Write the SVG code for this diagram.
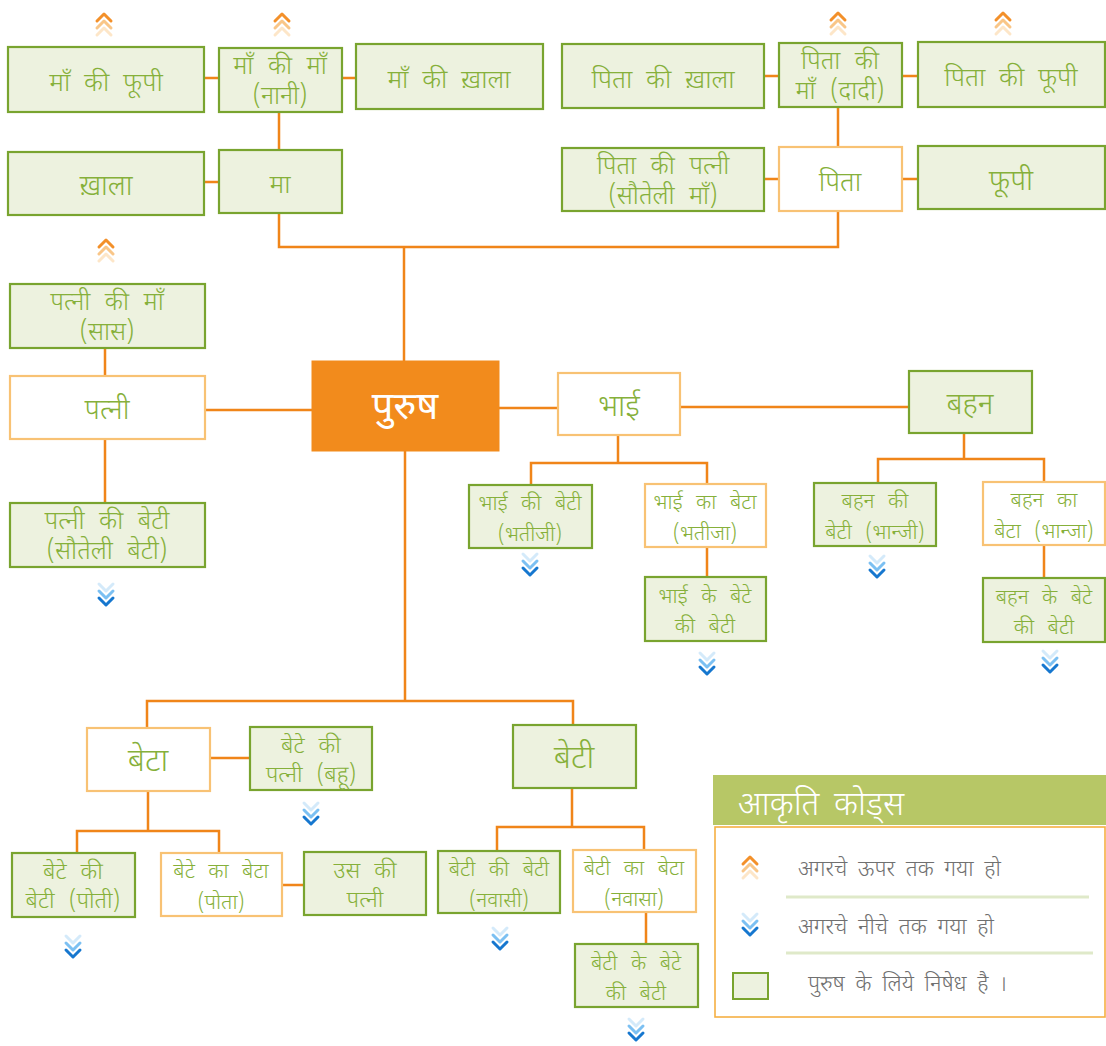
<svg xmlns="http://www.w3.org/2000/svg" xmlns:xlink="http://www.w3.org/1999/xlink" width="1106" height="1046" viewBox="0 0 1106 1046">
<style>
text{font-family:"Noto Sans Devanagari","Lohit Devanagari","Noto Sans","DejaVu Sans",sans-serif;text-anchor:middle;fill:#86b03a;font-weight:300}
.g rect{fill:#edf2df;stroke:#79a42f;stroke-width:2.2}
.w rect{fill:#ffffff;stroke:#f8c274;stroke-width:2.2}
.o rect{fill:#f28b1c;stroke:#f28b1c}
.o text{fill:#ffffff;font-weight:400}
.c path{fill:none;stroke:#f08519;stroke-width:2.5}
.s26{font-size:26px;word-spacing:7px}
.s25{font-size:25px;word-spacing:8px}
.s24{font-size:23px;word-spacing:8px}
.s21{font-size:21px;word-spacing:8px}
.lg{fill:#707070;text-anchor:start;font-size:22px;word-spacing:5px}
</style>
<defs>
<g id="up" fill="none" stroke-width="3" stroke-linecap="round" stroke-linejoin="round">
<polyline points="-7,6 0,-1 7,6" stroke="#f3902a"/>
<polyline points="-7,13 0,6 7,13" stroke="#f9c688"/>
<polyline points="-7,20 0,13 7,20" stroke="#fde6c8"/>
</g>
<g id="dn" fill="none" stroke-width="3" stroke-linecap="round" stroke-linejoin="round">
<polyline points="-7,0 0,7 7,0" stroke="#d4eafa"/>
<polyline points="-7,7 0,14 7,7" stroke="#7cc0f2"/>
<polyline points="-7,14 0,21 7,14" stroke="#1677cf"/>
</g>
</defs>
<rect width="1106" height="1046" fill="#ffffff"/>

<g id="connectors" class="c">
<path d="M204,78H219M342,78H356M279,112V150M204,182H219"/>
<path d="M279,213V247H838V211"/>
<path d="M764,76H779M902,76H918M838,107V147M764,179H779M902,179H918"/>
<path d="M404,247V361"/>
<path d="M105,348V376M105,439V503M205,410H312"/>
<path d="M499,408H558M680,407H909"/>
<path d="M618,435V463M531,485V463H707V484M707,547V577"/>
<path d="M964,433V459M878,483V459H1044V482M1044,545V578"/>
<path d="M405,451V701M147,728V701H573V725"/>
<path d="M210,758H250M148,791V831M77,853V831H219V853M282,885H304"/>
<path d="M572,788V827M497,851V827H644V850M646,912V944"/>
</g>

<g id="chevrons">
<use xlink:href="#up" x="104" y="15"/>
<use xlink:href="#up" x="282" y="15"/>
<use xlink:href="#up" x="838" y="14"/>
<use xlink:href="#up" x="1003" y="14"/>
<use xlink:href="#up" x="106" y="241"/>
<use xlink:href="#dn" x="106" y="584"/>
<use xlink:href="#dn" x="530" y="554"/>
<use xlink:href="#dn" x="707" y="653"/>
<use xlink:href="#dn" x="877" y="556"/>
<use xlink:href="#dn" x="1050" y="651"/>
<use xlink:href="#dn" x="311" y="803"/>
<use xlink:href="#dn" x="73" y="936"/>
<use xlink:href="#dn" x="500" y="928"/>
<use xlink:href="#dn" x="636" y="1019"/>
</g>

<g id="maa_phupi" class="g"><rect x="8" y="47" width="196" height="65"/><text class="s26" x="106" y="91">माँ की फूपी</text></g>
<g id="nani" class="g"><rect x="219" y="48" width="123" height="64"/><text class="s25" x="280" y="74">माँ की माँ</text><text class="s25" x="280" y="104">(नानी)</text></g>
<g id="maa_khala" class="g"><rect x="356" y="44" width="187" height="65"/><text class="s26" x="449" y="88">माँ की ख़ाला</text></g>
<g id="khala" class="g"><rect x="8" y="152" width="196" height="63"/><text class="s26" x="106" y="195" style="font-size:28px">ख़ाला</text></g>
<g id="ma" class="g"><rect x="219" y="150" width="123" height="63"/><text class="s26" x="280" y="193">मा</text></g>

<g id="pita_khala" class="g"><rect x="562" y="44" width="202" height="64"/><text class="s26" x="663" y="88">पिता की ख़ाला</text></g>
<g id="dadi" class="g"><rect x="779" y="43" width="123" height="64"/><text class="s25" x="840" y="69">पिता की</text><text class="s25" x="840" y="99">माँ (दादी)</text></g>
<g id="pita_phupi" class="g"><rect x="918" y="42" width="187" height="65"/><text class="s26" x="1011" y="86">पिता की फूपी</text></g>
<g id="pita_patni" class="g"><rect x="562" y="148" width="202" height="63"/><text class="s25" x="663" y="174">पिता की पत्नी</text><text class="s25" x="663" y="204">(सौतेली माँ)</text></g>
<g id="pita" class="w"><rect x="779" y="147" width="123" height="64"/><text class="s26" x="840" y="191" style="font-size:27px">पिता</text></g>
<g id="phupi" class="g"><rect x="918" y="146" width="187" height="63"/><text class="s26" x="1011" y="190" style="font-size:29px">फूपी</text></g>

<g id="saas" class="g"><rect x="10" y="284" width="195" height="64"/><text class="s25" x="107" y="310">पत्नी की माँ</text><text class="s25" x="107" y="340">(सास)</text></g>
<g id="patni" class="w"><rect x="10" y="376" width="195" height="63"/><text class="s26" x="107" y="419" style="font-size:28px">पत्नी</text></g>
<g id="sauteli_beti" class="g"><rect x="10" y="503" width="195" height="64"/><text class="s25" x="107" y="529">पत्नी की बेटी</text><text class="s25" x="107" y="559">(सौतेली बेटी)</text></g>

<g id="purush" class="o"><rect x="312" y="361" width="187" height="90"/><text x="405" y="419" font-size="38">पुरुष</text></g>

<g id="bhai" class="w"><rect x="558" y="373" width="122" height="62"/><text x="619" y="416" font-size="30">भाई</text></g>
<g id="bahan" class="g"><rect x="909" y="371" width="123" height="62"/><text x="970" y="414" font-size="30">बहन</text></g>
<g id="bhatiji" class="g"><rect x="469" y="485" width="123" height="63"/><text class="s21" x="530" y="510">भाई की बेटी</text><text class="s21" x="530" y="541">(भतीजी)</text></g>
<g id="bhatija" class="w"><rect x="645" y="484" width="121" height="63"/><text class="s21" x="705" y="509">भाई का बेटा</text><text class="s21" x="705" y="540">(भतीजा)</text></g>
<g id="bhai_bete_beti" class="g"><rect x="645" y="577" width="121" height="64"/><text class="s21" x="705" y="603">भाई के बेटे</text><text class="s21" x="705" y="633">की बेटी</text></g>
<g id="bhanji" class="g"><rect x="814" y="483" width="122" height="63"/><text class="s21" x="875" y="508">बहन की</text><text class="s21" x="875" y="539">बेटी (भान्जी)</text></g>
<g id="bhanja" class="w"><rect x="983" y="482" width="122" height="63"/><text class="s21" x="1044" y="507">बहन का</text><text class="s21" x="1044" y="538">बेटा (भान्जा)</text></g>
<g id="bahan_bete_beti" class="g"><rect x="983" y="578" width="122" height="64"/><text class="s21" x="1044" y="604">बहन के बेटे</text><text class="s21" x="1044" y="634">की बेटी</text></g>

<g id="beta" class="w"><rect x="87" y="728" width="123" height="63"/><text x="148" y="771" font-size="32">बेटा</text></g>
<g id="bahu" class="g"><rect x="250" y="727" width="122" height="63"/><text class="s24" x="311" y="753">बेटे की</text><text class="s24" x="311" y="782">पत्नी (बहू)</text></g>
<g id="beti" class="g"><rect x="513" y="725" width="123" height="63"/><text x="574" y="768" font-size="32">बेटी</text></g>
<g id="poti" class="g"><rect x="12" y="853" width="123" height="64"/><text class="s24" x="73" y="879">बेटे की</text><text class="s24" x="73" y="908">बेटी (पोती)</text></g>
<g id="pota" class="w"><rect x="161" y="853" width="121" height="63"/><text class="s21" x="221" y="878">बेटे का बेटा</text><text class="s21" x="221" y="909">(पोता)</text></g>
<g id="us_patni" class="g"><rect x="304" y="852" width="122" height="63"/><text class="s24" x="365" y="878">उस की</text><text class="s24" x="365" y="907">पत्नी</text></g>
<g id="navasi" class="g"><rect x="438" y="851" width="122" height="62"/><text class="s21" x="499" y="876">बेटी की बेटी</text><text class="s21" x="499" y="907">(नवासी)</text></g>
<g id="navasa" class="w"><rect x="573" y="850" width="123" height="62"/><text class="s21" x="634" y="875">बेटी का बेटा</text><text class="s21" x="634" y="906">(नवासा)</text></g>
<g id="beti_bete_beti" class="g"><rect x="575" y="944" width="123" height="63"/><text class="s21" x="636" y="970">बेटी के बेटे</text><text class="s21" x="636" y="1000">की बेटी</text></g>

<g id="legend">
<rect x="713" y="775" width="393" height="50" fill="#b7c766"/>
<text x="738" y="815" font-size="33" style="text-anchor:start;fill:#ffffff;word-spacing:6px">आकृति कोड्स</text>
<rect x="715" y="827" width="390" height="190" fill="#ffffff" stroke="#f5b043" stroke-width="1.6"/>
<use xlink:href="#up" x="750" y="858"/>
<text class="lg" x="798" y="876">अगरचे ऊपर तक गया हो</text>
<line x1="786" y1="897" x2="1089" y2="897" stroke="#dfe9c9" stroke-width="3"/>
<use xlink:href="#dn" x="750" y="914"/>
<text class="lg" x="798" y="934">अगरचे नीचे तक गया हो</text>
<line x1="786" y1="953" x2="1093" y2="953" stroke="#dfe9c9" stroke-width="3"/>
<rect x="733" y="973" width="35" height="26" fill="#edf2df" stroke="#79a42f" stroke-width="2"/>
<text class="lg" x="808" y="991">पुरुष के लिये निषेध है ।</text>
</g>
</svg>
